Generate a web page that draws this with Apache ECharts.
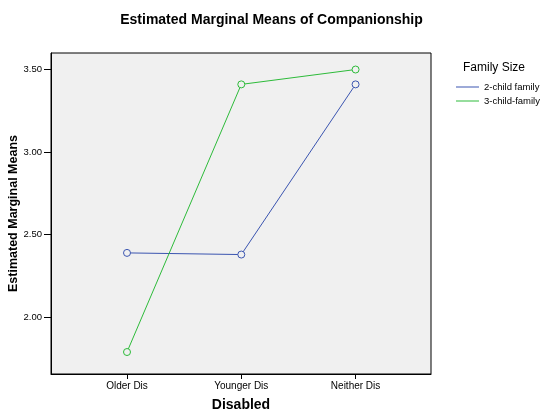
<!DOCTYPE html>
<html><head><meta charset="utf-8">
<script src="https://cdn.jsdelivr.net/npm/echarts@6/dist/echarts.min.js"></script>
<style>html,body{margin:0;padding:0;background:#fff}#c{width:543px;height:414px}</style>
</head><body><div id="c"></div>
<script>
const categories = ['Older Dis', 'Younger Dis', 'Neither Dis'];
const twoChild = [2.39, 2.38, 3.41];
const threeChild = [1.79, 3.41, 3.50];
const yTicks = [2.00, 2.50, 3.00, 3.50];

const chart = echarts.init(document.getElementById('c'));
const font = '"Liberation Sans", Arial, sans-serif';
const blue = '#3b55b0', green = '#2dbb3a';
chart.setOption({
  backgroundColor: '#fff',
  animation: false,
  title: [{
    text: 'Estimated Marginal Means of Companionship',
    left: 'center', top: 8,
    textStyle: { fontFamily: font, fontSize: 14, fontWeight: 'bold', color: '#000' }
  }, {
    text: 'Family Size', left: 458, top: 57,
    textStyle: { fontFamily: font, fontSize: 12, fontWeight: 'normal', color: '#000' }
  }],
  legend: {
    orient: 'vertical', left: 451, top: 77, itemGap: 4,
    icon: 'rect', itemWidth: 23, itemHeight: 1,
    textStyle: { fontFamily: font, fontSize: 9.5, color: '#000' },
    data: [
      { name: '2-child family', itemStyle: { color: blue, borderWidth: 0 } },
      { name: '3-child-family', itemStyle: { color: green, borderWidth: 0 } }
    ]
  },
  grid: { left: 51, top: 53, width: 380, height: 321, outerBoundsMode: 'none', containLabel: false, show: true, backgroundColor: '#f0f0f0', borderColor: '#000', borderWidth: 1 },
  xAxis: {
    type: 'value', min: -0.665, max: 2.66,
    name: 'Disabled', nameLocation: 'middle', nameGap: 24, nameMoveOverlap: false,
    nameTextStyle: { fontFamily: font, fontSize: 14, fontWeight: 'bold', color: '#000' },
    axisLine: { show: true, onZero: false, lineStyle: { color: '#000', width: 1 } },
    axisTick: { show: true, customValues: [0, 1, 2], length: 5, inside: false, lineStyle: { color: '#000' } },
    axisLabel: { customValues: [0, 1, 2], formatter: v => categories[Math.round(v)], fontFamily: font, fontSize: 10, color: '#000', margin: 7 },
    splitLine: { show: false }
  },
  yAxis: {
    type: 'value', min: 1.657, max: 3.6,
    name: 'Estimated Marginal Means', nameLocation: 'middle', nameGap: 31, nameMoveOverlap: false,
    nameTextStyle: { fontFamily: font, fontSize: 12.5, fontWeight: 'bold', color: '#000' },
    axisLine: { show: true, onZero: false, lineStyle: { color: '#000', width: 1 } },
    axisTick: { show: true, customValues: yTicks, length: 7, lineStyle: { color: '#000' } },
    axisLabel: { customValues: yTicks, formatter: v => v.toFixed(2), fontFamily: font, fontSize: 9.5, color: '#000', margin: 9 },
    splitLine: { show: false }
  },
  series: [{
    name: '2-child family', type: 'line',
    data: twoChild.map((v, i) => [i, v]),
    lineStyle: { width: 1, color: blue },
    symbol: 'circle', symbolSize: 7,
    itemStyle: { color: '#f0f0f0', borderColor: blue, borderWidth: 1 }
  }, {
    name: '3-child-family', type: 'line',
    data: threeChild.map((v, i) => [i, v]),
    lineStyle: { width: 1, color: green },
    symbol: 'circle', symbolSize: 7,
    itemStyle: { color: '#f0f0f0', borderColor: green, borderWidth: 1 }
  }]
});
</script></body></html>
